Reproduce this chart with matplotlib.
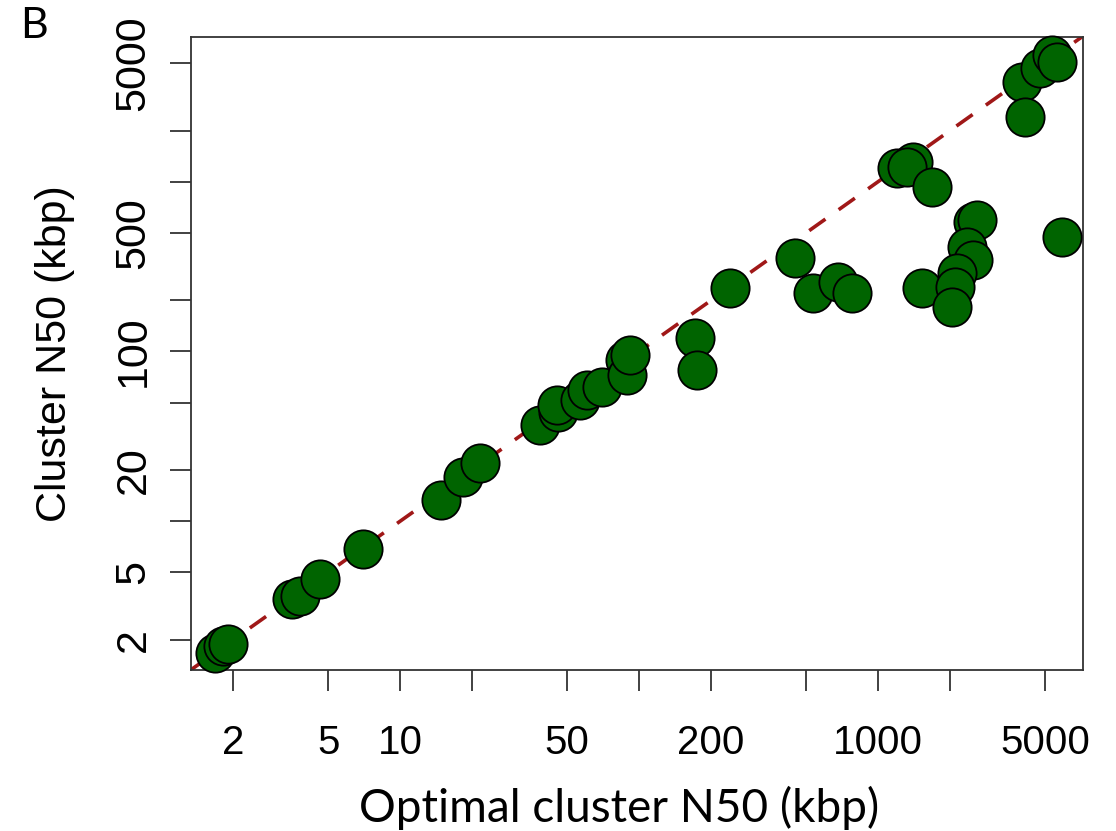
import numpy as np
import matplotlib
matplotlib.use("Agg")
import matplotlib.pyplot as plt
from matplotlib.ticker import FixedLocator, FixedFormatter, NullLocator

# optimal vs achieved cluster N50, kbp
optimal_n50 = [1.68, 1.82, 1.91, 3.53, 3.81, 4.62, 7.0, 14.8, 18.3, 21.6,
               38.5, 45.8, 45.4, 56.6, 60.6, 70.0, 87.4, 89.1, 91.6,
               171, 175, 240, 449, 535, 680, 778,
               1200, 1400, 1321, 1682, 1527,
               2497, 2595, 2357, 2497, 2140, 2100, 2040,
               4003, 4760, 5343, 5606, 4118, 5885]
cluster_n50 = [1.68, 1.83, 1.88, 3.50, 3.65, 4.60, 6.9, 13.3, 18.1, 21.9,
               36.7, 43.8, 48.1, 51.5, 59.0, 61.5, 88.7, 72.3, 94.9,
               119.6, 77.4, 236, 354, 220, 256, 220,
               1202, 1304, 1218, 929, 236,
               578, 593, 411, 345, 289, 239, 182,
               3863, 4667, 5576, 5070, 2402, 471]

x_ticks = [2, 5, 10, 20, 50, 100, 200, 500, 1000, 2000, 5000]
x_labels = ["2", "5", "10", "", "50", "", "200", "", "1000", "", "5000"]
y_ticks = [2, 5, 10, 20, 50, 100, 200, 500, 1000, 2000, 5000]
y_labels = ["2", "5", "", "20", "", "100", "", "500", "", "", "5000"]

W, H = 1116, 831
fig = plt.figure(figsize=(W / 100, H / 100), dpi=100, facecolor="white")
ax = fig.add_axes([191 / W, 1 - 670 / H, (1083 - 191) / W, (670 - 37) / H])

ax.set_xscale("log")
ax.set_yscale("log")
lo, hi = 1.334, 7200
ax.set_xlim(lo, hi)
ax.set_ylim(1.33, 7115)

# y = x reference line
ax.plot([lo, hi], [lo, hi], color="#A01818", lw=2.6, ls=(0, (5.5, 4.5)), zorder=2)

ax.scatter(optimal_n50, cluster_n50, s=760, c="#006400", edgecolors="black",
           linewidths=1.3, zorder=3, clip_on=False)

sans = ["Liberation Sans", "DejaVu Sans"]
ax.xaxis.set_major_locator(FixedLocator(x_ticks))
ax.xaxis.set_major_formatter(FixedFormatter(x_labels))
ax.xaxis.set_minor_locator(NullLocator())
ax.yaxis.set_major_locator(FixedLocator(y_ticks))
ax.yaxis.set_major_formatter(FixedFormatter(y_labels))
ax.yaxis.set_minor_locator(NullLocator())
ax.tick_params(axis="both", length=15, width=1.3, color="#333333")
ax.tick_params(axis="x", pad=24)
ax.tick_params(axis="y", pad=12)
for lab in ax.get_xticklabels():
    lab.set_fontfamily(sans)
    lab.set_fontsize(29)
for lab in ax.get_yticklabels():
    lab.set_fontfamily(sans)
    lab.set_fontsize(31)
    lab.set_rotation(90)
    lab.set_va("center")

for sp in ax.spines.values():
    sp.set_linewidth(1.3)
    sp.set_color("#333333")

ax.set_ylabel("Cluster N50 (kbp)", family=sans, fontsize=31, labelpad=28)

fig.text(619 / W, 1 - 808 / H, "Optimal cluster N50 (kbp)",
         family=["Lato", "DejaVu Sans"], fontsize=33, ha="center", va="center")
fig.text(34 / W, 1 - 26 / H, "B", family=["Lato", "DejaVu Sans"],
         fontsize=31, ha="center", va="center")

fig.savefig("out.png", dpi=100, facecolor="white")
